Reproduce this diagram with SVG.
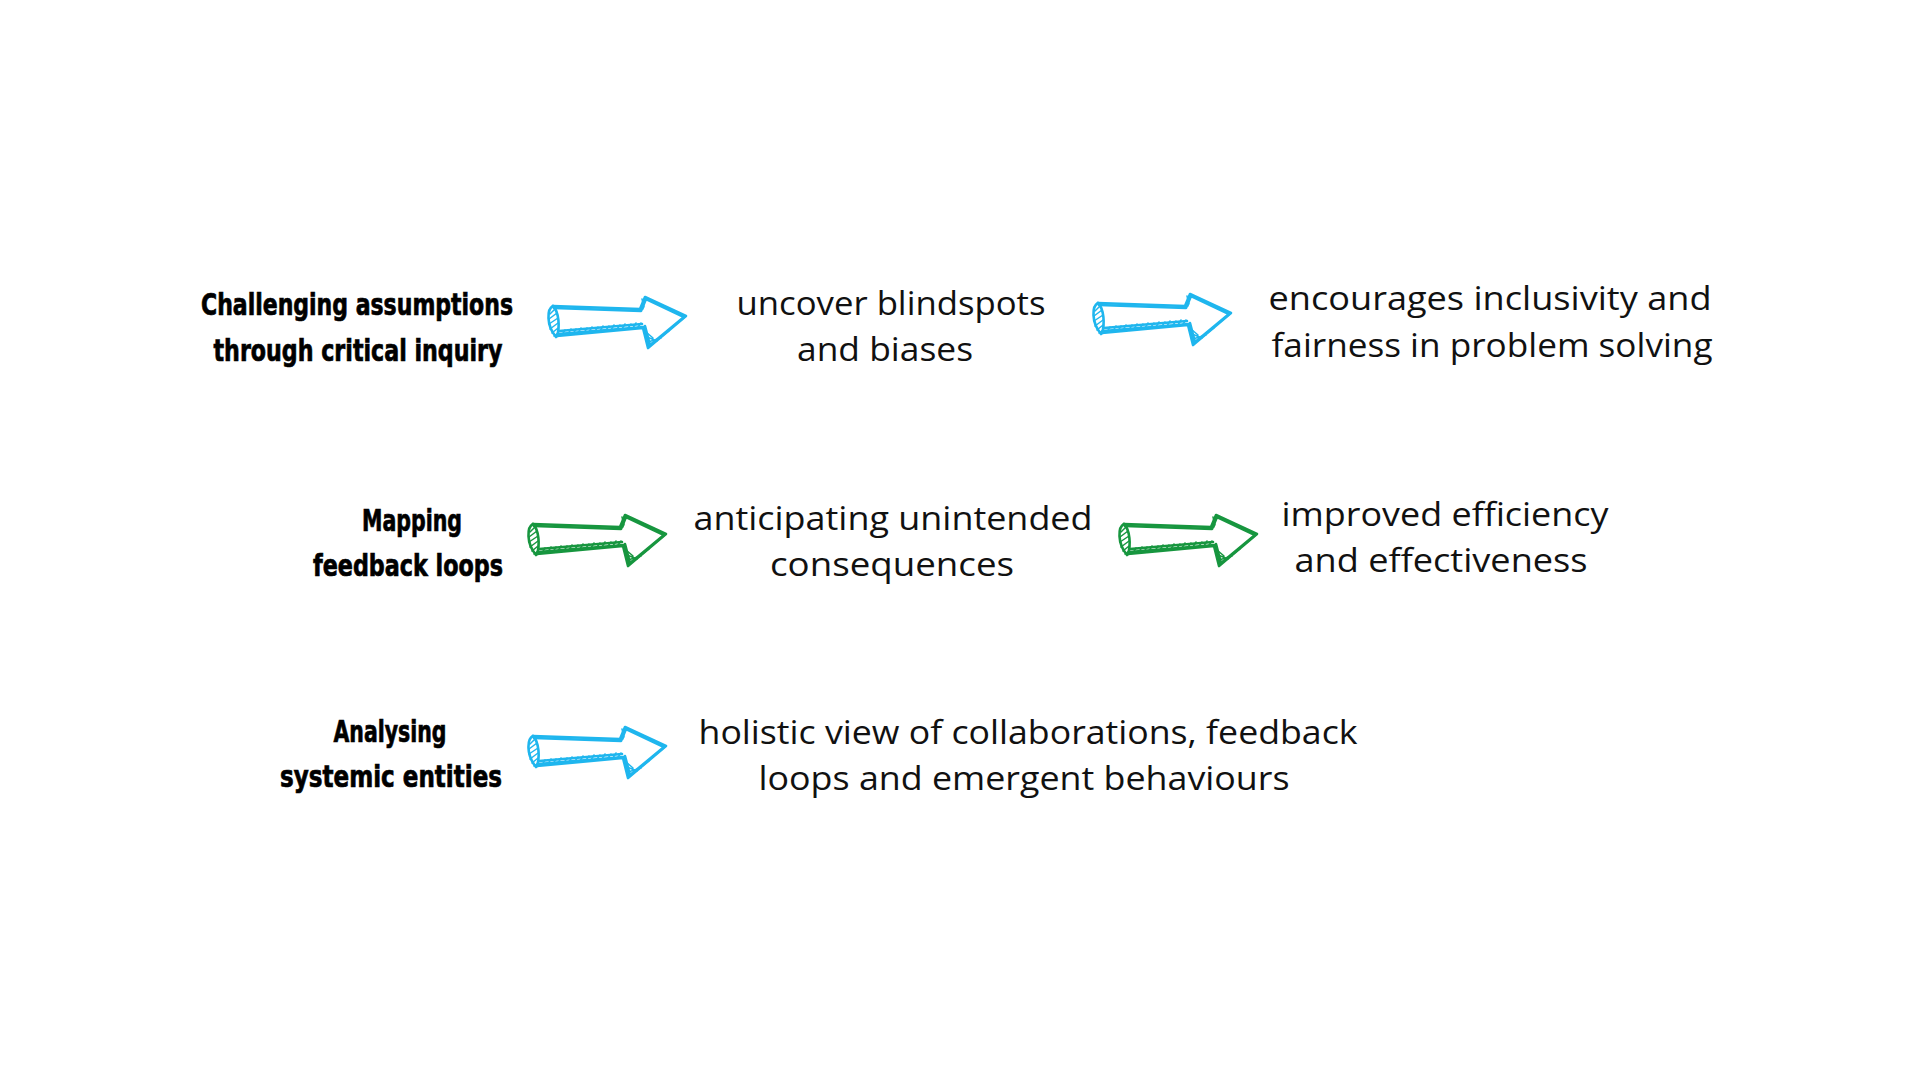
<svg xmlns="http://www.w3.org/2000/svg" xmlns:xlink="http://www.w3.org/1999/xlink" width="1920" height="1080" viewBox="0 0 1920 1080">
<style>
.lbl{font-family:"Liberation Sans Narrow","DejaVu Sans Condensed","DejaVu Sans",sans-serif;font-weight:bold;font-stretch:condensed;font-size:31px;fill:#000;stroke:#000;stroke-width:0.7;text-anchor:middle}
.txt{font-family:"Open Sans","Noto Sans",sans-serif;font-size:32px;fill:#111;text-anchor:middle}
.blue{color:#1fb6ee}
.green{color:#17963f}
.sk{fill:none;stroke:currentColor;stroke-width:2.6;stroke-linecap:round;stroke-linejoin:round}
.ht{fill:none;stroke:currentColor;stroke-width:1.5;stroke-linecap:round}
</style>
<defs>
<g id="arrow">
<path class="sk" d="M6,12 L93,15 L98,3 L139,22 L101,54 L96,34 L10,42"/>
<path class="sk" d="M7,14 L94,17 L99,5 L137,23 L102,52 L97,33 L11,40" stroke-width="1.4"/>
<path class="sk" d="M6,12 C0,15 -1,31 9,43"/>
<path class="sk" d="M6,12 C12,18 13,33 10,42" stroke-width="1.6"/>
<path class="sk" d="M12,37 L95,30" stroke-width="1.6"/>
<path class="sk" d="M98,32 L103,51" stroke-width="1.4"/>
<path class="ht" d="M3,20 L8,15 M2,25 L10,19 M2,30 L11,24 M3,35 L11,29 M5,39 L11,34 M7,42 L11,39"/>
<path class="ht" d="M15,41 L18,36 M21,40 L24,35 M26,40 L29,35 M31,39 L34,34 M37,39 L40,34 M42,38 L45,33 M48,37 L51,33 M53,37 L56,32 M59,36 L62,32 M64,36 L67,31 M70,35 L73,31 M75,35 L78,30 M81,34 L84,30 M86,34 L89,29 M91,33 L94,29"/>
<path class="ht" d="M99,38 L106,44 M100,43 L110,47 M101,48 L114,44 M102,52 L118,40 M104,50 L122,37 M95,5 L97,13 M97,6 L96,15"/>
</g>
</defs>
<rect width="1920" height="1080" fill="#fff"/>
<g id="connectors">
<use xlink:href="#arrow" href="#arrow" class="blue" transform="translate(547,294)"/>
<use xlink:href="#arrow" href="#arrow" class="blue" transform="translate(1092,291)"/>
<use xlink:href="#arrow" href="#arrow" class="green" transform="translate(527,512)"/>
<use xlink:href="#arrow" href="#arrow" class="green" transform="translate(1118,512)"/>
<use xlink:href="#arrow" href="#arrow" class="blue" transform="translate(527,724)"/>
</g>
<g id="node-challenging">
<text class="lbl" x="357" y="315" textLength="312" lengthAdjust="spacingAndGlyphs">Challenging assumptions</text>
<text class="lbl" x="358" y="361" textLength="289" lengthAdjust="spacingAndGlyphs">through critical inquiry</text>
</g>
<g id="node-uncover">
<text class="txt" x="891" y="315" textLength="309" lengthAdjust="spacingAndGlyphs">uncover blindspots</text>
<text class="txt" x="885" y="361" textLength="176" lengthAdjust="spacingAndGlyphs">and biases</text>
</g>
<g id="node-encourages">
<text class="txt" x="1490" y="310" textLength="443" lengthAdjust="spacingAndGlyphs">encourages inclusivity and</text>
<text class="txt" x="1492" y="357" textLength="441" lengthAdjust="spacingAndGlyphs">fairness in problem solving</text>
</g>
<g id="node-mapping">
<text class="lbl" x="412" y="531" textLength="100" lengthAdjust="spacingAndGlyphs">Mapping</text>
<text class="lbl" x="408" y="576" textLength="190" lengthAdjust="spacingAndGlyphs">feedback loops</text>
</g>
<g id="node-anticipating">
<text class="txt" x="893" y="530" textLength="399" lengthAdjust="spacingAndGlyphs">anticipating unintended</text>
<text class="txt" x="892" y="576" textLength="244" lengthAdjust="spacingAndGlyphs">consequences</text>
</g>
<g id="node-improved">
<text class="txt" x="1445" y="526" textLength="327" lengthAdjust="spacingAndGlyphs">improved efficiency</text>
<text class="txt" x="1441" y="572" textLength="293" lengthAdjust="spacingAndGlyphs">and effectiveness</text>
</g>
<g id="node-analysing">
<text class="lbl" x="390" y="742" textLength="113" lengthAdjust="spacingAndGlyphs">Analysing</text>
<text class="lbl" x="391" y="787" textLength="222" lengthAdjust="spacingAndGlyphs">systemic entities</text>
</g>
<g id="node-holistic">
<text class="txt" x="1028" y="744" textLength="659" lengthAdjust="spacingAndGlyphs">holistic view of collaborations, feedback</text>
<text class="txt" x="1024" y="790" textLength="531" lengthAdjust="spacingAndGlyphs">loops and emergent behaviours</text>
</g>
</svg>
